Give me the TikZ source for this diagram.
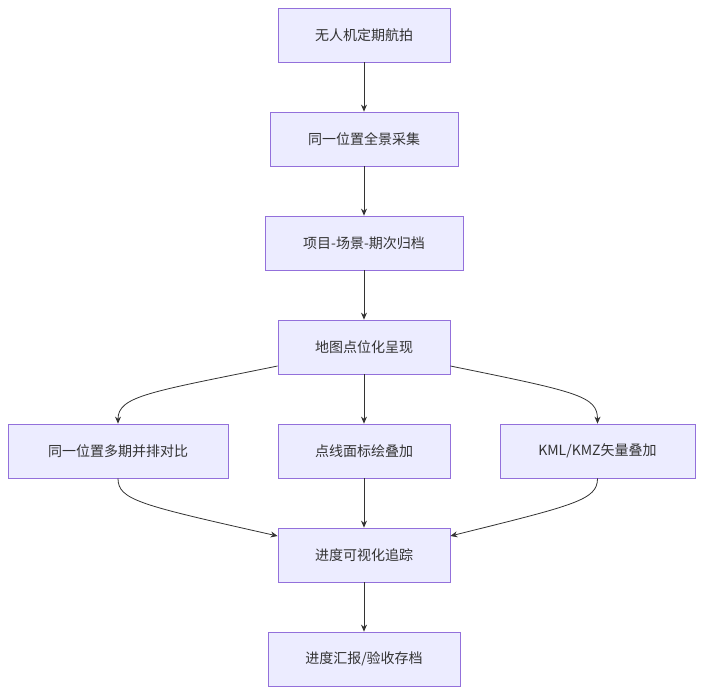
\documentclass[tikz,border=0pt]{standalone}
\usepackage{fontspec}
\setmainfont{Noto Sans CJK SC}
\usetikzlibrary{arrows.meta}
\begin{document}
\begin{tikzpicture}[x=1pt,y=-1pt,
 box/.style={draw=#1, fill=#1!0, minimum height=54pt, inner sep=0pt},
 b/.style={draw={rgb,255:red,147;green,112;blue,219}, fill={rgb,255:red,236;green,236;blue,255}, minimum height=54pt, minimum width=#1, inner sep=0pt, text={rgb,255:red,51;green,51;blue,51}, font=\fontsize{14}{16}\selectfont, line width=0.8pt},
 e/.style={draw={rgb,255:red,51;green,51;blue,51}, line width=0.8pt, -{Stealth[length=7pt,width=6pt]}}]
\useasboundingbox (0,0) rectangle (703,694);
\node[b=172pt] (n1) at (364,35) {无人机定期航拍};
\node[b=188pt] (n2) at (364,139) {同一位置全景采集};
\node[b=198pt] (n3) at (364,243) {项目-场景-期次归档};
\node[b=172pt] (n4) at (364,347) {地图点位化呈现};
\node[b=220pt] (n5) at (118,451) {同一位置多期并排对比};
\node[b=172pt] (n6) at (364,451) {点线面标绘叠加};
\node[b=195pt] (n7) at (597.5,451) {KML/KMZ矢量叠加};
\node[b=172pt] (n8) at (364,555) {进度可视化追踪};
\node[b=192pt] (n9) at (364,659) {进度汇报/验收存档};
\draw[e] (n1) -- (n2);
\draw[e] (n2) -- (n3);
\draw[e] (n3) -- (n4);
\draw[e] (n4) -- (n6);
\draw[e] (n6) -- (n8);
\draw[e] (n8) -- (n9);
\draw[e] (n4.west |- 0,366) .. controls (150,392) and (118,396) .. (n5.north);
\draw[e] (n4.east |- 0,366) .. controls (578,392) and (597.5,396) .. (n7.north);
\draw[e] (n5.south) .. controls (118,500) and (140,505) .. (n8.west |- 0,536);
\draw[e] (n7.south) .. controls (597.5,500) and (575,505) .. (n8.east |- 0,536);
\end{tikzpicture}
\end{document}
